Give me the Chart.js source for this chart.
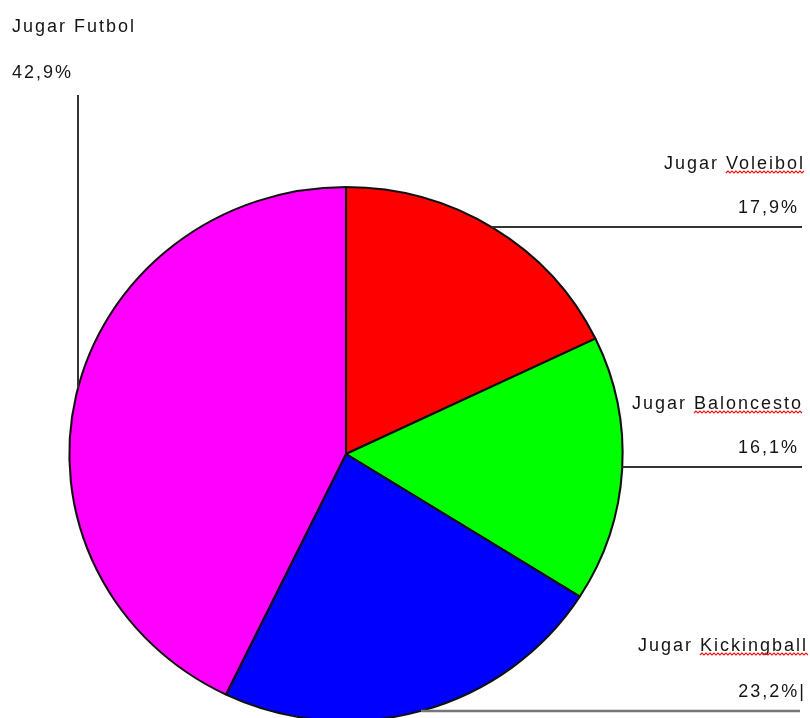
<!DOCTYPE html>
<html>
<head>
<meta charset="utf-8">
<script src="https://cdn.jsdelivr.net/npm/chart.js@4"></script>
<style>
  html, body { margin: 0; padding: 0; background: #fff; }
  #wrap { width: 810px; height: 718px; }
</style>
</head>
<body>
<div id="wrap"><canvas id="pie"></canvas></div>
<script>
const labels = ["Jugar Voleibol", "Jugar Baloncesto", "Jugar Kickingball", "Jugar Futbol"];
const values = [17.9, 16.1, 23.2, 42.9];
const valueLabels = ["17,9%", "16,1%", "23,2%|", "42,9%"];
const colors = ["#ff0000", "#00ff00", "#0000ff", "#ff00ff"];

// pie in the reference is a bit wider than tall
const stretchX = 1.036;

// label layout: where the name/percent sit and where the leader line runs
const callouts = [
    { align: "right", x: 805, nameY: 169, pctX: 799, pctY: 213, lineY: 227, lineEnd: 802, lineColor: "#333", underline: "Voleibol" },
    { align: "right", x: 803, nameY: 409, pctX: 799, pctY: 453, lineY: 467, lineEnd: 802, lineColor: "#333", underline: "Baloncesto" },
    { align: "right", x: 808, nameY: 651, pctX: 806, pctY: 697, lineY: 711, lineEnd: 800, lineColor: "#777", underline: "Kickingball" },
    { align: "left", x: 12, nameY: 32, pctX: 12, pctY: 78, lineX: 78, lineTop: 95, lineColor: "#333" },
];

const stretchPlugin = {
    id: "stretch",
    beforeDatasetsDraw(chart) {
        const arc = chart.getDatasetMeta(0).data[0];
        const ctx = chart.ctx;
        ctx.save();
        ctx.translate(arc.x, arc.y);
        ctx.scale(stretchX, 1);
        ctx.translate(-arc.x, -arc.y);
    },
    afterDatasetsDraw(chart) {
        chart.ctx.restore();
    },
};

function wavy(ctx, x0, x1, y) {
    ctx.save();
    ctx.strokeStyle = "#e81818";
    ctx.lineWidth = 1.2;
    ctx.letterSpacing = "0px";
    ctx.beginPath();
    let up = true;
    ctx.moveTo(x0, y);
    for (let x = x0 + 2; x <= x1; x += 2) {
        ctx.lineTo(x, up ? y - 2 : y);
        up = !up;
    }
    ctx.stroke();
    ctx.restore();
}

const calloutPlugin = {
    id: "callouts",
    afterDraw(chart) {
        const ctx = chart.ctx;
        const meta = chart.getDatasetMeta(0);
        const cx = meta.data[0].x;
        const cy = meta.data[0].y;
        const r = meta.data[0].outerRadius;
        ctx.save();
        ctx.font = "18px 'Liberation Sans', Arial, sans-serif";
        ctx.letterSpacing = "2px";
        ctx.fillStyle = "#151515";
        ctx.textBaseline = "alphabetic";
        callouts.forEach((c, i) => {
            // leader line
            ctx.strokeStyle = c.lineColor;
            ctx.lineWidth = c.lineColor === "#777" ? 2.5 : 2;
            ctx.beginPath();
            if (c.lineY !== undefined) {
                const dy = c.lineY - cy;
                const dx = Math.sqrt(Math.max(r * r - dy * dy, 0)) * stretchX;
                ctx.moveTo(cx + dx, c.lineY);
                ctx.lineTo(c.lineEnd, c.lineY);
            } else {
                const dx = (c.lineX - cx) / stretchX;
                const dy = Math.sqrt(Math.max(r * r - dx * dx, 0));
                ctx.moveTo(c.lineX, c.lineTop);
                ctx.lineTo(c.lineX, cy - dy);
            }
            ctx.stroke();

            // texts
            ctx.textAlign = c.align;
            ctx.fillText(labels[i], c.x, c.nameY);
            ctx.fillText(valueLabels[i], c.pctX, c.pctY);

            if (c.underline) {
                const word = ctx.measureText(c.underline).width;
                wavy(ctx, c.x - word, c.x, c.nameY + 4);
            }
        });
        ctx.restore();
    },
};

new Chart(document.getElementById("pie"), {
    type: "pie",
    data: {
        labels,
        datasets: [
            {
                data: values,
                backgroundColor: colors,
                borderColor: "#111",
                borderWidth: 2,
                radius: 267,
            },
        ],
    },
    options: {
        responsive: true,
        maintainAspectRatio: false,
        animation: false,
        layout: {
            padding: { left: 0, right: 118, top: 190, bottom: 0 },
        },
        plugins: {
            legend: { display: false },
            tooltip: { enabled: false },
        },
    },
    plugins: [stretchPlugin, calloutPlugin],
});
</script>
</body>
</html>
